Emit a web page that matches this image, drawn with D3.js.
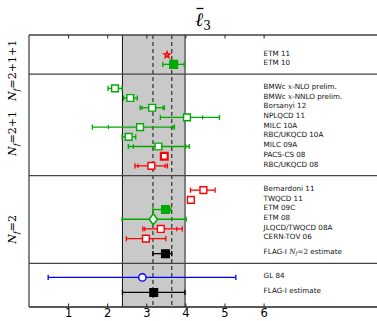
<!DOCTYPE html>
<html>
<head>
<meta charset="utf-8">
<script src="https://cdn.jsdelivr.net/npm/d3@7"></script>
<style>
  body { margin: 0; background: #fff; }
  svg { display: block; }
</style>
</head>
<body>
<div id="chart"></div>
<script>
// Collaborations, top to bottom
const labels = ["ETM 11", "ETM 10", "BMWc x-NLO prelim.", "BMWc x-NNLO prelim.", "Borsanyi 12",
    "NPLQCD 11", "MILC 10A", "RBC/UKQCD 10A", "MILC 09A", "PACS-CS 08", "RBC/UKQCD 08",
    "Bernardoni 11", "TWQCD 11", "ETM 09C", "ETM 08", "JLQCD/TWQCD 08A", "CERN-TOV 06",
    "FLAG-I Nf=2 estimate", "GL 84", "FLAG-I estimate"];

// row in plot units
const rows = [26.0, 25.02, 22.55, 21.55, 20.55, 19.55, 18.55, 17.55, 16.55, 15.55, 14.55,
    12.05, 11.05, 10.05, 9.05, 8.05, 7.05, 5.5, 3.05, 1.5];

// central values of l3-bar
const values = [3.53, 3.70, 2.20, 2.59, 3.15, 4.04, 2.84, 2.55, 3.31, 3.46, 3.13,
    4.46, 4.14, 3.49, 3.18, 3.37, 2.99, 3.49, 2.90, 3.19];

// total error range (null = no bar)
const errLow  = [null, 3.42, 2.02, 2.42, 2.84, 3.36, 1.62, 2.38, 2.54, null, 2.71,
    4.13, null, 3.17, 2.38, 2.91, 2.49, 3.17, 0.49, 2.39];
const errHigh = [null, 3.97, 2.38, 2.77, 3.46, 4.87, 3.72, 2.73, 4.10, null, 3.54,
    4.76, null, 3.63, 4.02, 3.92, 3.50, 3.65, 5.29, 3.99];

// statistical error range (inner ticks)
const statLow  = [null, null, null, null, 2.89, null, 2.03, null, 2.67, null, 2.79,
    null, null, null, null, 2.96, null, null, null, null];
const statHigh = [null, null, null, null, 3.43, 4.44, 3.68, null, 4.01, null, 3.48,
    null, null, null, null, 3.78, null, null, null, null];

// group separators (plot units) and group names
const separators = [24.02, 13.55, 4.5];
const groups = [
    { name: "2+1+1", center: 24.4 },
    { name: "2+1", center: 17.9 },
    { name: "2", center: 8.0 }
];

const band = [2.39, 3.99];
const dashed = [3.17, 3.65];
const xTicks = [1, 2, 3, 4, 5, 6];

// marker styles per row
const green = "#00aa00", red = "#ff0000", blue = "#0000ff", black = "#000";
const styles = [
    { c: red, m: "star", fill: false },
    { c: green, m: "square", fill: true },
    { c: green, m: "square", fill: false },
    { c: green, m: "square", fill: false },
    { c: green, m: "square", fill: false },
    { c: green, m: "square", fill: false },
    { c: green, m: "square", fill: false },
    { c: green, m: "square", fill: false },
    { c: green, m: "square", fill: false },
    { c: red, m: "square", fill: false, thick: true },
    { c: red, m: "square", fill: false },
    { c: red, m: "square", fill: false },
    { c: red, m: "square", fill: false },
    { c: green, m: "square", fill: true },
    { c: green, m: "diamond", fill: false },
    { c: red, m: "square", fill: false },
    { c: red, m: "square", fill: false },
    { c: black, m: "square", fill: true },
    { c: blue, m: "circle", fill: false },
    { c: black, m: "square", fill: true }
];

const W = 377, H = 321;
const margin = { top: 35, right: 0, bottom: 14, left: 29 };

const svg = d3.select("#chart").append("svg")
    .attr("width", W)
    .attr("height", H);

const x = d3.scaleLinear().domain([0, 8.9]).range([margin.left, W - margin.right]);
const y = d3.scaleLinear().domain([0, 28.05]).range([H - margin.bottom, margin.top]);

const yTop = margin.top, yBot = H - margin.bottom;

// grey band
svg.append("rect")
    .attr("x", x(band[0]))
    .attr("y", yTop)
    .attr("width", x(band[1]) - x(band[0]))
    .attr("height", yBot - yTop)
    .attr("fill", "#c9c9c9");
svg.append("line")
    .attr("x1", x(band[0])).attr("x2", x(band[0]))
    .attr("y1", yTop).attr("y2", yBot)
    .attr("stroke", "#111").attr("stroke-width", 1);
svg.append("line")
    .attr("x1", x(band[1])).attr("x2", x(band[1]))
    .attr("y1", yTop).attr("y2", yBot)
    .attr("stroke", "#666").attr("stroke-width", 1.6);

// dashed lines
svg.selectAll(".dash")
    .data(dashed)
    .enter().append("line")
    .attr("x1", d => x(d)).attr("x2", d => x(d))
    .attr("y1", yTop).attr("y2", yBot)
    .attr("stroke", "#444")
    .attr("stroke-width", 1.4)
    .attr("stroke-dasharray", "4,3");

// separators
svg.selectAll(".sep")
    .data(separators)
    .enter().append("line")
    .attr("x1", margin.left).attr("x2", W)
    .attr("y1", d => y(d)).attr("y2", d => y(d))
    .attr("stroke", "#444")
    .attr("stroke-width", 1.3);

// frame
svg.append("line").attr("x1", margin.left).attr("x2", W).attr("y1", yTop).attr("y2", yTop)
    .attr("stroke", "#444").attr("stroke-width", 1.3);
svg.append("line").attr("x1", margin.left).attr("x2", W).attr("y1", yBot).attr("y2", yBot)
    .attr("stroke", "#222").attr("stroke-width", 1.3);
svg.append("line").attr("x1", margin.left).attr("x2", margin.left).attr("y1", yTop).attr("y2", yBot)
    .attr("stroke", "#444").attr("stroke-width", 1.3);

// x axis: inward ticks on bottom and top
const xAxisB = d3.axisBottom(x).tickValues(xTicks).tickSizeInner(-3.5).tickSizeOuter(0).tickPadding(2);
const gB = svg.append("g").attr("transform", `translate(0,${yBot})`).call(xAxisB);
gB.select(".domain").remove();
gB.selectAll("line").attr("stroke", "#222");
gB.selectAll("text")
    .style("font-family", "DejaVu Sans, sans-serif")
    .style("font-size", "11.5px")
    .attr("fill", "#000");

const xAxisT = d3.axisTop(x).tickValues(xTicks).tickSizeInner(-3.5).tickSizeOuter(0).tickFormat("");
const gT = svg.append("g").attr("transform", `translate(0,${yTop})`).call(xAxisT);
gT.select(".domain").remove();
gT.selectAll("line").attr("stroke", "#222");

// error bars
const capH = 2.6;
const rowsG = svg.append("g");
labels.forEach((lab, i) => {
    const cy = y(rows[i]);
    const col = styles[i].c;
    if (errLow[i] !== null) {
        rowsG.append("line")
            .attr("x1", x(errLow[i])).attr("x2", x(errHigh[i]))
            .attr("y1", cy).attr("y2", cy)
            .attr("stroke", col).attr("stroke-width", 1.3);
        [errLow[i], errHigh[i]].forEach(v => {
            rowsG.append("line")
                .attr("x1", x(v)).attr("x2", x(v))
                .attr("y1", cy - capH).attr("y2", cy + capH)
                .attr("stroke", col).attr("stroke-width", 1.3);
        });
    }
    [statLow[i], statHigh[i]].forEach(v => {
        if (v === null) return;
        rowsG.append("line")
            .attr("x1", x(v)).attr("x2", x(v))
            .attr("y1", cy - 2.2).attr("y2", cy + 2.2)
            .attr("stroke", col).attr("stroke-width", 1.2);
    });
});

// markers
const symbolOf = { square: d3.symbolSquare, circle: d3.symbolCircle, diamond: d3.symbolDiamond, star: d3.symbolStar };
const sizeOf = { square: 46, circle: 42, diamond: 38, star: 11 };
rowsG.selectAll(".mark")
    .data(values)
    .enter().append("path")
    .attr("transform", (d, i) => `translate(${x(d)},${y(rows[i])})` + (styles[i].m === "diamond" ? " scale(1.25,0.95)" : ""))
    .attr("d", (d, i) => d3.symbol().type(symbolOf[styles[i].m]).size(styles[i].fill ? 58 : sizeOf[styles[i].m])())
    .attr("fill", (d, i) => styles[i].fill ? styles[i].c : "#fff")
    .attr("stroke", (d, i) => styles[i].c)
    .attr("stroke-width", (d, i) => styles[i].thick ? 2.2 : 1.4);

// row labels
const lab = svg.append("g")
    .style("font-family", "DejaVu Sans, sans-serif")
    .style("font-size", "7.2px")
    .attr("fill", "#111");
labels.forEach((name, i) => {
    const t = lab.append("text")
        .attr("x", x(6.0))
        .attr("y", y(rows[i]) - 1.3)
        .attr("dominant-baseline", "middle");
    if (name.startsWith("BMWc")) {
        t.append("tspan").text("BMWc ");
        t.append("tspan").text("x").style("font-family", "DejaVu Serif, serif").style("font-style", "italic");
        t.append("tspan").text(name.slice(6));
    } else if (name.includes("Nf=2")) {
        t.append("tspan").text("FLAG-I ");
        t.append("tspan").text("N").style("font-family", "DejaVu Serif, serif").style("font-style", "italic");
        t.append("tspan").text("f").style("font-family", "DejaVu Serif, serif").style("font-style", "italic")
            .style("font-size", "5px").attr("dy", 1.5);
        t.append("tspan").text("=2").style("font-family", "DejaVu Serif, serif").attr("dy", -1.5);
        t.append("tspan").text(" estimate");
    } else {
        t.text(name);
    }
});

// group labels on the left (rotated)
groups.forEach(g => {
    const t = svg.append("text")
        .attr("transform", `translate(16,${y(g.center)}) rotate(-90)`)
        .attr("text-anchor", "middle")
        .style("font-family", "DejaVu Serif, serif")
        .style("font-size", "11px")
        .attr("fill", "#000");
    t.append("tspan").text("N").style("font-style", "italic");
    t.append("tspan").text("f").style("font-style", "italic").style("font-size", "8px").attr("dy", 2.5);
    t.append("tspan").text("=" + g.name).attr("dy", -2.5);
});

// title: l3 with bar
const title = svg.append("text")
    .attr("x", 203)
    .attr("y", 26)
    .attr("text-anchor", "middle")
    .style("font-family", "DejaVu Serif, serif")
    .attr("fill", "#000");
title.append("tspan").text("\u2113").style("font-size", "19px").style("font-style", "italic");
title.append("tspan").text("3").style("font-size", "12px").attr("dy", 4);
svg.append("line")
    .attr("x1", 196.5).attr("x2", 203.5)
    .attr("y1", 8.5).attr("y2", 8.5)
    .attr("stroke", "#000").attr("stroke-width", 1.3);
</script>
</body>
</html>
